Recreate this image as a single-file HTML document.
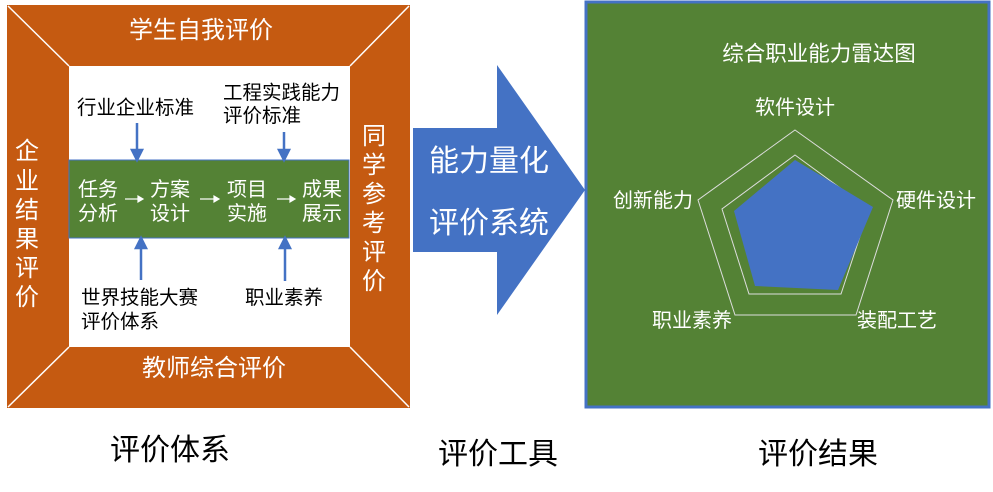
<!DOCTYPE html>
<html><head><meta charset="utf-8"><style>
body{margin:0;background:#fff;}
svg text{font-family:"Liberation Sans","Noto Sans CJK SC",sans-serif;}
</style></head><body>
<svg width="993" height="487" viewBox="0 0 993 487" xmlns="http://www.w3.org/2000/svg">
<rect x="7" y="5" width="403" height="403" fill="#C55A11"/>
<rect x="69" y="66" width="281" height="281" fill="#fff"/>
<g stroke="#fff" stroke-width="1.5">
<line x1="8" y1="6" x2="69" y2="66"/><line x1="409" y1="6" x2="350" y2="66"/>
<line x1="8" y1="407" x2="69" y2="347"/><line x1="409" y1="407" x2="350" y2="347"/>
</g>
<g fill="#fff" font-size="24" text-anchor="middle">
<text x="201" y="38">学生自我评价</text>
<text x="214" y="376">教师综合评价</text>
</g>
<g fill="#fff" font-size="24" text-anchor="middle">
<text x="27" y="159">企</text><text x="27" y="189">业</text><text x="27" y="218">结</text><text x="27" y="247">果</text><text x="27" y="276">评</text><text x="27" y="305">价</text>
<text x="374" y="144">同</text><text x="374" y="173">学</text><text x="374" y="202">参</text><text x="374" y="231">考</text><text x="374" y="260">评</text><text x="374" y="289">价</text>
</g>
<rect x="69" y="160" width="280" height="78" fill="#548235" stroke="#4472C4" stroke-width="1"/>
<g fill="#fff" font-size="20">
<text x="78" y="196">任务</text><text x="78" y="220">分析</text>
<text x="150" y="196">方案</text><text x="150" y="220">设计</text>
<text x="227" y="196">项目</text><text x="227" y="220">实施</text>
<text x="302" y="196">成果</text><text x="302" y="220">展示</text>
</g>
<g stroke="#fff" stroke-width="1.2" fill="#fff">
<line x1="125" y1="199" x2="140" y2="199"/><polygon points="143,199 138,196 138,202"/>
<line x1="200" y1="199" x2="215" y2="199"/><polygon points="219,199 214,196 214,202"/>
<line x1="277" y1="199" x2="291" y2="199"/><polygon points="295,199 290,196 290,202"/>
</g>
<g fill="#000" font-size="19.5">
<text x="77" y="114">行业企业标准</text>
<text x="223" y="99">工程实践能力</text><text x="223" y="122">评价标准</text>
<text x="81" y="304">世界技能大赛</text><text x="81" y="328">评价体系</text>
<text x="245" y="304">职业素养</text>
</g>
<g stroke="#4472C4" stroke-width="2.5" fill="#4472C4">
<line x1="137" y1="123" x2="137" y2="152"/><polygon points="132,150 142,150 137,160"/>
<line x1="284" y1="132" x2="284" y2="152"/><polygon points="279,150 289,150 284,160"/>
<line x1="141" y1="248" x2="141" y2="280"/><polygon points="136,248 146,248 141,238"/>
<line x1="285" y1="248" x2="285" y2="281"/><polygon points="280,248 290,248 285,238"/>
</g>
<polygon points="413,128 497,128 497,65 585,190 497,315 497,252 413,252" fill="#4472C4"/>
<g fill="#fff" font-size="30">
<text x="429" y="171">能力量化</text>
<text x="429" y="233">评价系统</text>
</g>
<rect x="586" y="2" width="403" height="405" fill="#548235" stroke="#4472C4" stroke-width="3"/>
<text x="819" y="61" fill="#fff" font-size="21.5" text-anchor="middle">综合职业能力雷达图</text>
<g fill="none" stroke="#ddd" stroke-width="1">
<polygon points="795,130 893,200 856,315 735,315 698,200"/>
<polygon points="795,155 869,209 841,294 749,294 722,209"/>
</g>
<polygon points="795,160 873,207 838,290 755,286 734,211" fill="#4472C4"/>
<g fill="#fff" font-size="20" text-anchor="middle">
<text x="795" y="114">软件设计</text>
<text x="936" y="207">硬件设计</text>
<text x="653" y="207">创新能力</text>
<text x="692" y="327">职业素养</text>
<text x="897" y="327">装配工艺</text>
</g>
<g fill="#000" font-size="30" text-anchor="middle">
<text x="170" y="460">评价体系</text>
<text x="498" y="464">评价工具</text>
<text x="818" y="464">评价结果</text>
</g>
</svg>
</body></html>
